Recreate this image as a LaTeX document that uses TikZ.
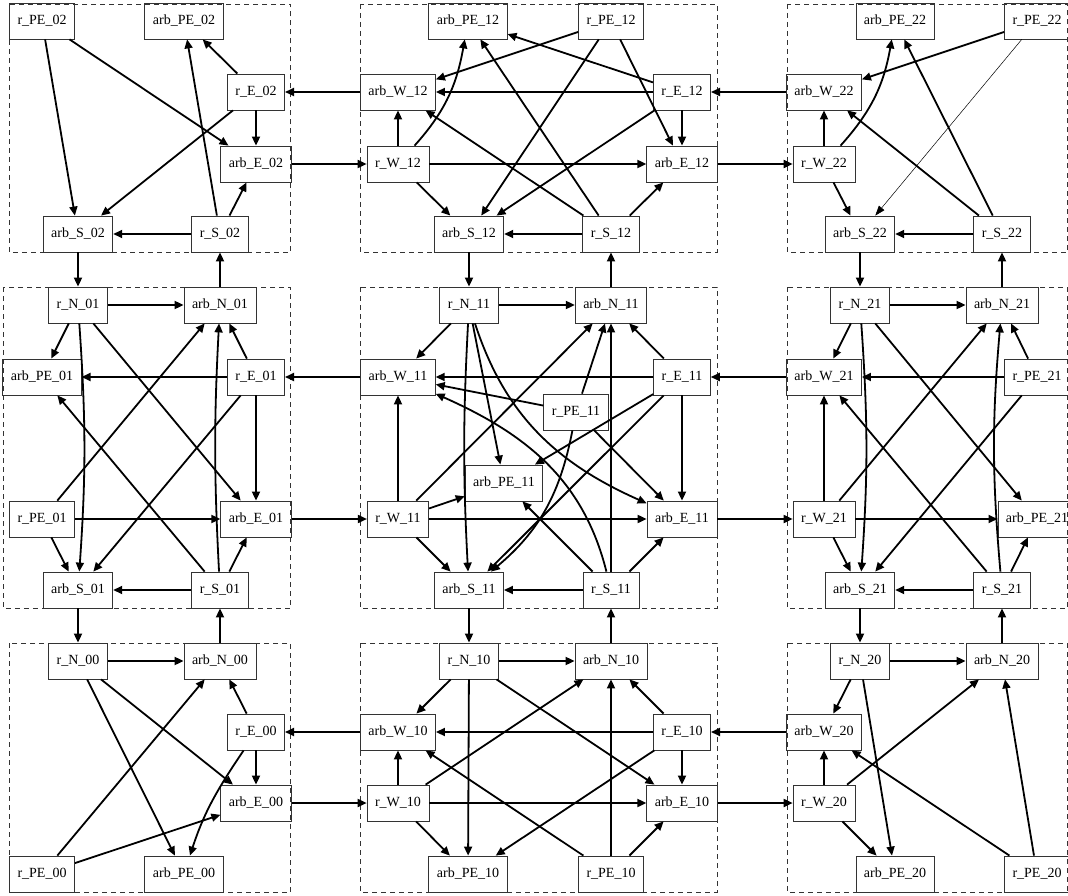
\documentclass[tikz,border=0pt]{standalone}
\usepackage{fontspec}
\setmainfont{Liberation Serif}
\usetikzlibrary{arrows.meta}
\tikzset{
  box/.style={draw=black!80, line width=0.8pt, rectangle, minimum height=36pt, minimum width=54pt,
    inner xsep=8pt, inner ysep=0pt, font=\fontsize{14}{16}\selectfont},
  e/.style={line width=1.8pt, -{Triangle[length=9pt,width=8pt]}},
  thine/.style={line width=0.5pt, -{Triangle[length=10pt,width=7pt]}},
  cluster/.style={draw=black!80, line width=0.8pt, dash pattern=on 5pt off 4pt},
}
\newcommand\nd[4]{\node[box] (#1) at (#3pt,-#4pt) {#2};}
\begin{document}
\begin{tikzpicture}
\useasboundingbox (0,0) rectangle (1068pt,-896pt);
% clusters
\draw[cluster] (9pt,-4pt) rectangle (290.5pt,-252pt);
\draw[cluster] (360pt,-4pt) rectangle (717pt,-252pt);
\draw[cluster] (787pt,-4pt) rectangle (1067.5pt,-252pt);
\draw[cluster] (3pt,-287pt) rectangle (290.5pt,-608pt);
\draw[cluster] (360pt,-287pt) rectangle (717pt,-608pt);
\draw[cluster] (787pt,-287pt) rectangle (1067.5pt,-608pt);
\draw[cluster] (9pt,-643pt) rectangle (290.5pt,-892pt);
\draw[cluster] (360pt,-643pt) rectangle (717pt,-892pt);
\draw[cluster] (787pt,-643pt) rectangle (1067.5pt,-892pt);
% cluster 02
\nd{rPE02}{r\_PE\_02}{42}{21}
\nd{arbPE02}{arb\_PE\_02}{184}{21}
\nd{rE02}{r\_E\_02}{256}{92}
\nd{arbE02}{arb\_E\_02}{256}{164}
\nd{arbS02}{arb\_S\_02}{78}{234}
\nd{rS02}{r\_S\_02}{220}{234}
% cluster 12
\nd{arbPE12}{arb\_PE\_12}{468}{21}
\nd{rPE12}{r\_PE\_12}{611}{21}
\nd{arbW12}{arb\_W\_12}{398}{92}
\nd{rE12}{r\_E\_12}{682}{92}
\nd{rW12}{r\_W\_12}{398}{164}
\nd{arbE12}{arb\_E\_12}{682}{164}
\nd{arbS12}{arb\_S\_12}{469}{234}
\nd{rS12}{r\_S\_12}{611}{234}
% cluster 22
\nd{arbPE22}{arb\_PE\_22}{895}{21}
\nd{rPE22}{r\_PE\_22}{1037}{21}
\nd{arbW22}{arb\_W\_22}{824}{92}
\nd{rW22}{r\_W\_22}{824}{164}
\nd{arbS22}{arb\_S\_22}{860}{234}
\nd{rS22}{r\_S\_22}{1002}{234}
% cluster 01
\nd{rN01}{r\_N\_01}{78}{305}
\nd{arbN01}{arb\_N\_01}{220}{305}
\nd{arbPE01}{arb\_PE\_01}{42}{377}
\nd{rE01}{r\_E\_01}{256}{377}
\nd{rPE01}{r\_PE\_01}{42}{519}
\nd{arbE01}{arb\_E\_01}{256}{519}
\nd{arbS01}{arb\_S\_01}{78}{590}
\nd{rS01}{r\_S\_01}{220}{590}
% cluster 11
\nd{rN11}{r\_N\_11}{469}{305}
\nd{arbN11}{arb\_N\_11}{611}{305}
\nd{arbW11}{arb\_W\_11}{398}{377}
\nd{rE11}{r\_E\_11}{682}{377}
\nd{rPE11}{r\_PE\_11}{576}{412}
\nd{arbPE11}{arb\_PE\_11}{504}{483}
\nd{rW11}{r\_W\_11}{398}{519}
\nd{arbE11}{arb\_E\_11}{682}{519}
\nd{arbS11}{arb\_S\_11}{469}{590}
\nd{rS11}{r\_S\_11}{611}{590}
% cluster 21
\nd{rN21}{r\_N\_21}{860}{305}
\nd{arbN21}{arb\_N\_21}{1002}{305}
\nd{arbW21}{arb\_W\_21}{824}{377}
\nd{rPE21}{r\_PE\_21}{1037}{377}
\nd{rW21}{r\_W\_21}{824}{519}
\nd{arbPE21}{arb\_PE\_21}{1037}{519}
\nd{arbS21}{arb\_S\_21}{860}{590}
\nd{rS21}{r\_S\_21}{1002}{590}
% cluster 00
\nd{rN00}{r\_N\_00}{78}{661}
\nd{arbN00}{arb\_N\_00}{220}{661}
\nd{rE00}{r\_E\_00}{256}{732}
\nd{arbE00}{arb\_E\_00}{256}{803}
\nd{rPE00}{r\_PE\_00}{42}{874}
\nd{arbPE00}{arb\_PE\_00}{184}{874}
% cluster 10
\nd{rN10}{r\_N\_10}{469}{661}
\nd{arbN10}{arb\_N\_10}{611}{661}
\nd{arbW10}{arb\_W\_10}{398}{732}
\nd{rE10}{r\_E\_10}{682}{732}
\nd{rW10}{r\_W\_10}{398}{803}
\nd{arbE10}{arb\_E\_10}{682}{803}
\nd{arbPE10}{arb\_PE\_10}{468}{874}
\nd{rPE10}{r\_PE\_10}{611}{874}
% cluster 20
\nd{rN20}{r\_N\_20}{860}{661}
\nd{arbN20}{arb\_N\_20}{1002}{661}
\nd{arbW20}{arb\_W\_20}{824}{732}
\nd{rW20}{r\_W\_20}{824}{803}
\nd{arbPE20}{arb\_PE\_20}{895}{874}
\nd{rPE20}{r\_PE\_20}{1037}{874}
% edges 02
\draw[e] (rPE02) -- (arbS02);
\draw[e] (rPE02) -- (arbE02);
\draw[e] (rE02) -- (arbPE02);
\draw[e] (rE02) -- (arbE02);
\draw[e] (rE02) -- (arbS02);
\draw[e] (rS02) -- (arbPE02);
\draw[e] (rS02) -- (arbE02);
\draw[e] (rS02) -- (arbS02);
% edges 12
\draw[e] (rPE12) -- (arbW12);
\draw[e] (rPE12) -- (arbS12);
\draw[e] (rPE12) -- (arbE12);
\draw[e] (rE12) -- (arbPE12);
\draw[e] (rE12) -- (arbW12);
\draw[e] (rE12) -- (arbE12);
\draw[e] (rE12) -- (arbS12);
\draw[e] (rW12) -- (arbW12);
\draw[e] (rW12) to[out=48,in=-100] (arbPE12);
\draw[e] (rW12) -- (arbE12);
\draw[e] (rW12) -- (arbS12);
\draw[e] (rS12) -- (arbW12);
\draw[e] (rS12) -- (arbPE12);
\draw[e] (rS12) -- (arbS12);
\draw[e] (rS12) -- (arbE12);
% edges 22
\draw[e] (rPE22) -- (arbW22);
\draw[thine] (rPE22) -- (arbS22);
\draw[e] (rW22) -- (arbW22);
\draw[e] (rW22) to[out=48,in=-100] (arbPE22);
\draw[e] (rW22) -- (arbS22);
\draw[e] (rS22) -- (arbW22);
\draw[e] (rS22) -- (arbPE22);
\draw[e] (rS22) -- (arbS22);
% edges 01
\draw[e] (rN01) -- (arbN01);
\draw[e] (rN01) -- (arbPE01);
\draw[e] (rN01) to[bend left=4] (arbS01);
\draw[e] (rN01) -- (arbE01);
\draw[e] (rE01) -- (arbN01);
\draw[e] (rE01) -- (arbPE01);
\draw[e] (rE01) -- (arbS01);
\draw[e] (rE01) -- (arbE01);
\draw[e] (rPE01) -- (arbN01);
\draw[e] (rPE01) -- (arbE01);
\draw[e] (rPE01) -- (arbS01);
\draw[e] (rS01) -- (arbPE01);
\draw[e] (rS01) to[bend left=3] (arbN01);
\draw[e] (rS01) -- (arbS01);
\draw[e] (rS01) -- (arbE01);
% edges 11
\draw[e] (rN11) -- (arbN11);
\draw[e] (rN11) -- (arbW11);
\draw[e] (rN11) to[bend right=3] (arbS11);
\draw[e] (rN11) -- (arbPE11);
\draw[e] (rN11) to[out=-72,in=156] (arbE11);
\draw[e] (rE11) -- (arbN11);
\draw[e] (rE11) -- (arbW11);
\draw[e] (rE11) -- (arbPE11);
\draw[e] (rE11) -- (arbS11);
\draw[e] (rE11) -- (arbE11);
\draw[e] (rPE11) -- (arbN11);
\draw[e] (rPE11) -- (arbW11);
\draw[e] (rPE11) to[out=-101,in=40] (arbS11);
\draw[e] (rPE11) -- (arbE11);
\draw[e] (rW11) -- (arbW11);
\draw[e] (rW11) -- (arbN11);
\draw[e] (rW11) -- (arbPE11);
\draw[e] (rW11) -- (arbE11);
\draw[e] (rW11) -- (arbS11);
\draw[e] (rS11) -- (arbS11);
\draw[e] (rS11) -- (arbE11);
\draw[e] (rS11) -- (arbN11);
\draw[e] (rS11) -- (arbPE11);
\draw[e] (rS11) to[out=104,in=-24] (arbW11);
% edges 21
\draw[e] (rN21) -- (arbN21);
\draw[e] (rN21) -- (arbW21);
\draw[e] (rN21) to[bend left=4] (arbS21);
\draw[e] (rN21) -- (arbPE21);
\draw[e] (rPE21) -- (arbN21);
\draw[e] (rPE21) -- (arbW21);
\draw[e] (rPE21) -- (arbS21);
\draw[e] (rW21) -- (arbW21);
\draw[e] (rW21) -- (arbN21);
\draw[e] (rW21) -- (arbPE21);
\draw[e] (rW21) -- (arbS21);
\draw[e] (rS21) -- (arbW21);
\draw[e] (rS21) to[bend left=5] (arbN21);
\draw[e] (rS21) -- (arbS21);
\draw[e] (rS21) -- (arbPE21);
% edges 00
\draw[e] (rN00) -- (arbN00);
\draw[e] (rN00) -- (arbE00);
\draw[e] (rN00) -- (arbPE00);
\draw[e] (rE00) -- (arbN00);
\draw[e] (rE00) -- (arbE00);
\draw[e] (rE00) to[out=-124,in=72] (arbPE00);
\draw[e] (rPE00) -- (arbN00);
\draw[e] (rPE00) -- (arbE00);
% edges 10
\draw[e] (rN10) -- (arbN10);
\draw[e] (rN10) -- (arbW10);
\draw[e] (rN10) -- (arbPE10);
\draw[e] (rN10) -- (arbE10);
\draw[e] (rE10) -- (arbN10);
\draw[e] (rE10) -- (arbW10);
\draw[e] (rE10) -- (arbE10);
\draw[e] (rE10) -- (arbPE10);
\draw[e] (rW10) -- (arbW10);
\draw[e] (rW10) -- (arbN10);
\draw[e] (rW10) -- (arbE10);
\draw[e] (rW10) -- (arbPE10);
\draw[e] (rPE10) -- (arbW10);
\draw[e] (rPE10) -- (arbN10);
\draw[e] (rPE10) -- (arbE10);
% edges 20
\draw[e] (rN20) -- (arbN20);
\draw[e] (rN20) -- (arbW20);
\draw[e] (rN20) -- (arbPE20);
\draw[e] (rW20) -- (arbW20);
\draw[e] (rW20) -- (arbN20);
\draw[e] (rW20) -- (arbPE20);
\draw[e] (rPE20) -- (arbW20);
\draw[e] (rPE20) -- (arbN20);
% inter-cluster
\draw[e] (arbW12) -- (rE02);
\draw[e] (arbE02) -- (rW12);
\draw[e] (arbS02) -- (rN01);
\draw[e] (arbN01) -- (rS02);
\draw[e] (arbW22) -- (rE12);
\draw[e] (arbE12) -- (rW22);
\draw[e] (arbS12) -- (rN11);
\draw[e] (arbN11) -- (rS12);
\draw[e] (arbS22) -- (rN21);
\draw[e] (arbN21) -- (rS22);
\draw[e] (arbW11) -- (rE01);
\draw[e] (arbE01) -- (rW11);
\draw[e] (arbW21) -- (rE11);
\draw[e] (arbE11) -- (rW21);
\draw[e] (arbS01) -- (rN00);
\draw[e] (arbN00) -- (rS01);
\draw[e] (arbS11) -- (rN10);
\draw[e] (arbN10) -- (rS11);
\draw[e] (arbS21) -- (rN20);
\draw[e] (arbN20) -- (rS21);
\draw[e] (arbW10) -- (rE00);
\draw[e] (arbE00) -- (rW10);
\draw[e] (arbW20) -- (rE10);
\draw[e] (arbE10) -- (rW20);
\end{tikzpicture}
\end{document}
